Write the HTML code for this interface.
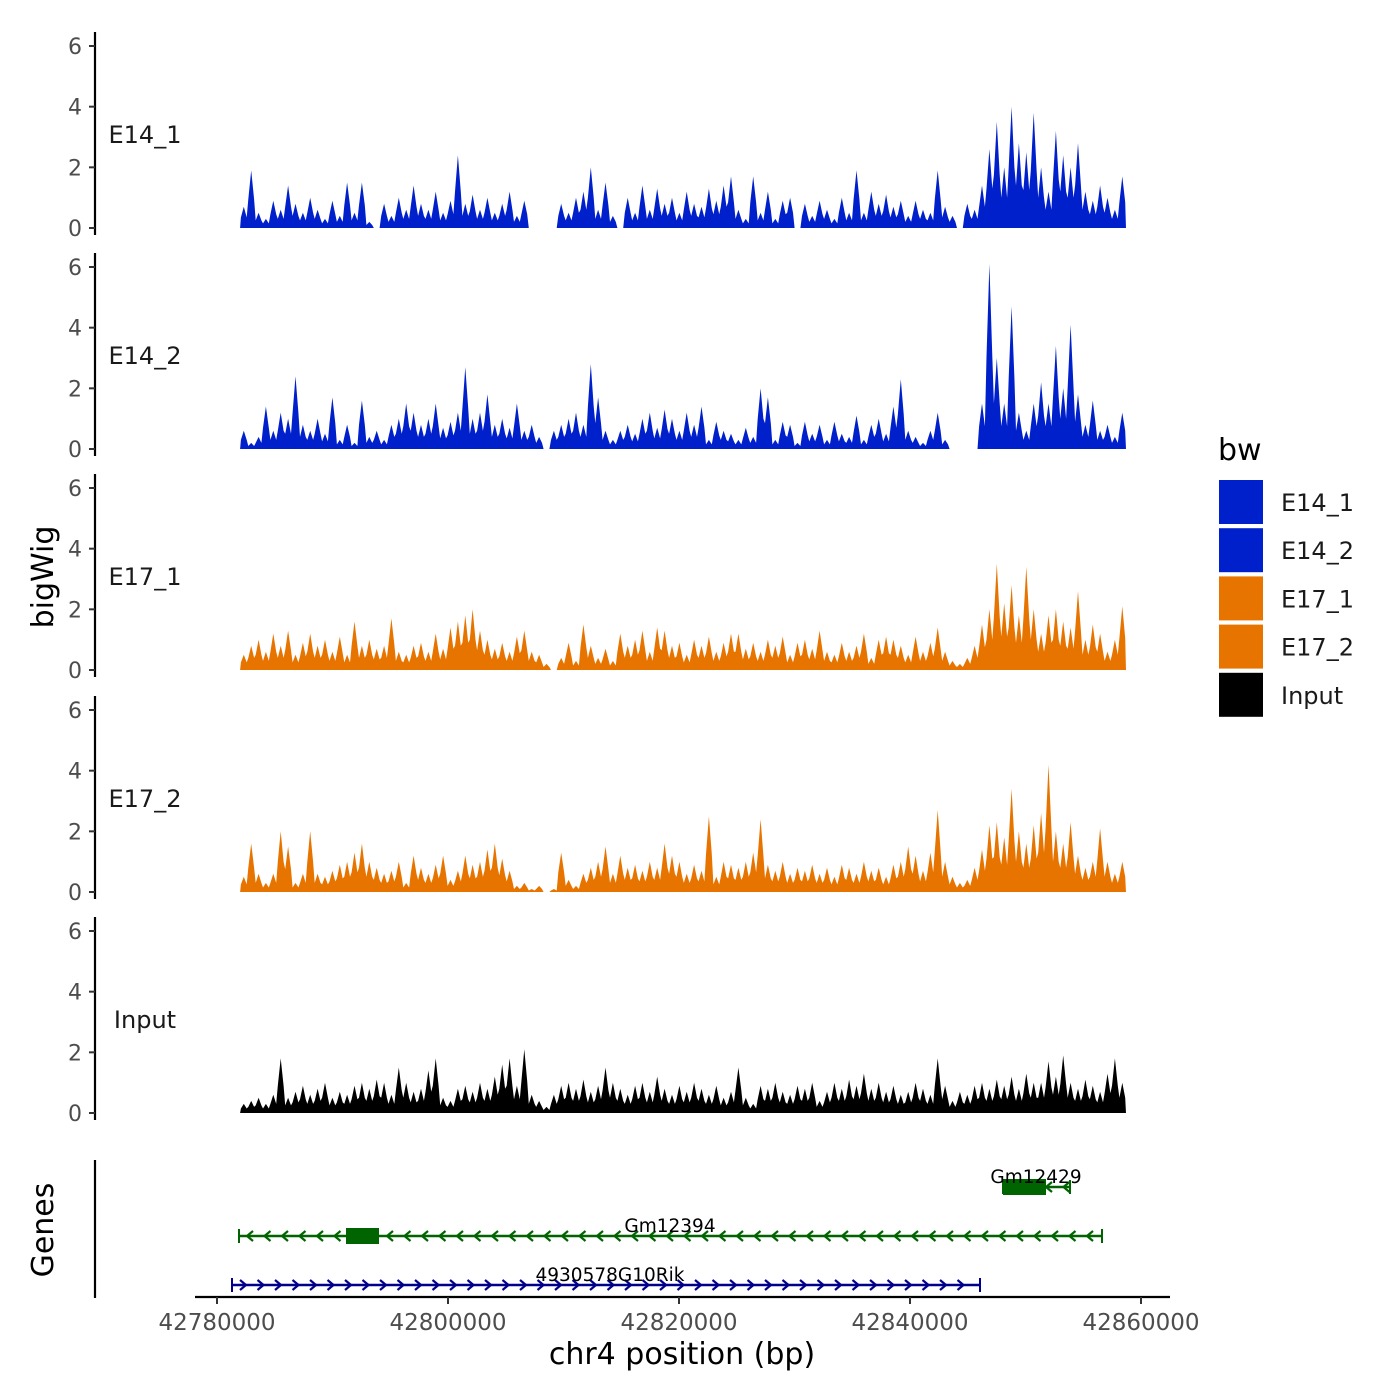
<!DOCTYPE html>
<html><head><meta charset="utf-8">
<style>
html,body{margin:0;padding:0;background:#fff;}
svg{display:block;font-family:"DejaVu Sans","Liberation Sans",sans-serif;}
</style></head>
<body>
<svg id="chart" width="1400" height="1400" viewBox="0 0 1400 1400">
<rect width="1400" height="1400" fill="#fff"/>
</svg>
<script>
const trackNames = ["E14_1","E14_2","E17_1","E17_2","Input"];
const trackColors = ["#0020CC","#0020CC","#E87400","#E87400","#000000"];
const yTicks = [0,2,4,6];
const xTicks = [42780000,42800000,42820000,42840000,42860000];
const xTickLabels = ["42780000","42800000","42820000","42840000","42860000"];
const dataStart = 42782000, dataEnd = 42858700;
const e14_1 = [0.7,1.9,0.5,0.3,0.9,0.6,1.4,0.8,0.5,1.0,0.6,0.3,0.9,0.4,1.5,0.5,1.5,0.2,0.0,0.8,0.4,1.0,0.6,1.4,0.8,0.6,1.2,0.5,0.9,2.4,0.8,1.1,0.6,1.0,0.5,0.8,1.2,0.4,0.9,0.0,0.0,0.0,0.0,0.8,0.5,1.0,1.2,2.0,0.6,1.5,0.4,0.0,1.0,0.5,1.4,0.6,1.3,0.8,1.0,0.5,1.2,0.8,0.7,1.3,0.9,1.4,1.7,0.6,0.3,1.7,0.5,1.2,0.3,0.9,1.0,0.0,0.8,0.4,0.9,0.6,0.3,1.0,0.5,1.9,0.5,1.2,0.8,1.1,0.7,0.9,0.4,0.9,0.6,0.5,1.9,0.7,0.4,0.0,0.8,0.6,1.4,2.6,3.5,2.0,4.0,2.8,2.5,3.8,2.0,1.2,3.2,2.4,2.0,2.8,1.2,0.9,1.4,1.0,0.6,1.7];
const e14_2 = [0.6,0.2,0.4,1.4,0.6,1.2,1.0,2.4,0.8,0.6,1.0,0.5,1.7,0.3,0.8,0.2,1.6,0.4,0.6,0.3,0.8,1.0,1.5,1.2,0.8,1.0,1.5,0.7,0.9,1.2,2.7,1.0,1.2,1.8,0.8,1.0,0.7,1.5,0.6,0.8,0.4,0.0,0.6,0.8,1.0,1.2,0.8,2.8,1.7,0.6,0.3,0.6,0.8,0.5,1.0,1.2,0.7,1.3,1.0,0.6,1.2,0.8,1.4,0.3,0.9,0.6,0.5,0.3,0.7,0.4,2.0,1.7,0.3,0.9,0.8,0.2,0.9,0.5,0.8,0.3,0.9,0.5,0.4,1.1,0.3,0.8,1.0,0.5,1.4,2.3,0.6,0.4,0.2,0.6,1.2,0.3,0.0,0.0,0.0,0.0,1.5,6.1,3.0,1.5,4.7,1.2,0.6,1.5,2.2,1.5,3.4,2.0,4.1,1.8,0.8,1.6,0.6,0.8,0.4,1.2];
const e17_1 = [0.5,0.8,1.0,0.6,1.2,0.8,1.3,0.5,0.9,1.2,0.8,1.0,0.6,1.1,0.5,1.6,0.8,1.0,0.7,0.8,1.7,0.6,0.5,0.8,0.9,0.6,1.2,0.7,1.4,1.6,1.8,2.0,1.3,1.0,0.7,0.9,0.6,1.1,1.3,0.6,0.5,0.2,0.0,0.4,0.9,0.3,1.5,0.8,0.4,0.7,0.3,1.2,0.8,1.0,1.3,0.6,1.4,1.3,0.8,0.9,0.5,1.0,0.8,1.1,0.6,0.9,1.2,1.2,0.7,0.9,0.6,1.0,0.8,1.1,0.5,0.9,1.0,0.7,1.3,0.6,0.5,0.9,0.6,0.8,1.2,0.4,1.0,1.1,1.0,0.8,0.5,1.1,0.6,0.9,1.4,0.6,0.3,0.2,0.4,0.8,1.5,2.0,3.5,2.2,2.8,1.8,3.4,2.0,1.2,1.8,2.0,1.6,1.4,2.6,1.0,1.5,1.2,0.6,1.0,2.1];
const e17_2 = [0.5,1.6,0.6,0.3,0.6,2.0,1.5,0.3,0.6,2.0,0.6,0.5,0.7,0.9,1.0,1.3,1.6,1.0,0.8,0.6,0.7,1.0,0.3,1.2,0.8,0.6,0.9,1.2,0.4,0.7,1.2,0.9,1.0,1.4,1.6,1.1,0.7,0.2,0.3,0.1,0.2,0.0,0.1,1.3,0.4,0.2,0.6,0.8,1.0,1.5,0.6,1.2,0.8,0.9,0.7,1.0,0.8,1.6,1.2,1.0,0.6,0.9,0.7,2.5,0.5,1.0,0.9,0.8,1.0,1.3,2.4,0.9,0.7,1.0,0.6,0.8,0.7,0.9,0.6,0.8,0.5,0.9,0.8,0.6,1.0,0.7,0.8,0.5,0.9,1.0,1.5,1.2,0.7,1.3,2.7,1.0,0.5,0.3,0.4,0.8,1.4,2.2,2.3,1.8,3.4,2.0,1.6,2.2,2.6,4.2,2.0,1.6,2.3,1.2,0.8,1.0,2.1,1.0,0.6,1.0];
const input = [0.3,0.4,0.5,0.3,0.6,1.8,0.5,0.7,0.9,0.6,0.8,1.0,0.5,0.7,0.6,0.9,1.0,0.8,1.1,1.0,0.6,1.5,1.0,0.7,0.8,1.4,1.8,0.5,0.4,0.8,0.9,0.7,1.0,0.8,1.2,1.6,1.8,0.9,2.1,0.6,0.4,0.2,0.6,0.9,1.0,0.8,1.1,0.7,0.9,1.5,1.0,0.8,0.6,0.9,1.0,0.7,1.2,0.8,0.6,0.9,0.7,1.0,0.8,0.6,0.9,0.5,0.7,1.5,0.5,0.3,0.9,0.8,1.0,0.7,0.6,0.9,0.8,1.0,0.4,0.7,1.0,0.8,1.1,0.9,1.3,0.8,1.0,0.7,0.9,0.6,0.7,1.0,0.8,0.6,1.8,0.9,0.4,0.7,0.6,0.9,1.0,0.8,1.1,0.9,1.2,0.8,1.3,1.0,1.0,1.7,1.2,1.9,1.0,0.8,1.1,0.9,0.7,1.3,1.8,1.0];
const geneNames = ["Gm12429","Gm12394","4930578G10Rik"];
const geneStarts = [42848052,42781905,42781299];
const geneEnds = [42853853,42856623,42846061];
const geneBoxStarts = [42848052,42791169,null];
const geneBoxEnds = [42851775,42794026,null];
const geneStrands = ["-","-","+"];
const geneColors = ["#006400","#006400","#00008B"];
const legendLabels = ["E14_1","E14_2","E17_1","E17_2","Input"];

const svg = document.getElementById('chart');
const NS = "http://www.w3.org/2000/svg";
function mk(tag, attrs, parent){const e=document.createElementNS(NS,tag);for(const k in attrs)e.setAttribute(k,attrs[k]);(parent||svg).appendChild(e);return e;}
const xScale = bp => 217 + (bp - 42780000) * 231 / 20000;
const zeroY = [228,449,670,892,1113];
const unitPx = 182/6;
const series = [e14_1,e14_2,e17_1,e17_2,input];

series.forEach((vals,t)=>{
  const g = mk('g',{});
  
  
  const y0 = zeroY[t];
  const yS = v => y0 - v*unitPx;
  const ax = mk('line',{x1:95,x2:95,y1:y0-196,y2:y0+7,stroke:'#000','stroke-width':2.2},g);
  
  
  yTicks.forEach(v=>{
    mk('line',{x1:89,x2:95,y1:yS(v),y2:yS(v),stroke:'#333','stroke-width':2},g);
    const tx = mk('text',{x:82,y:yS(v)+8,'text-anchor':'end','font-size':22,fill:'#4d4d4d'},g);
    tx.textContent = v;
    
    
  });
  const lbl = mk('text',{x:145,y:y0-85,'text-anchor':'middle','font-size':24,fill:'#1a1a1a'},g);
  lbl.textContent = trackNames[t];
  
  
  const n = vals.length, bw = (dataEnd-dataStart)/n;
  let d = 'M'+xScale(dataStart)+','+y0;
  vals.forEach((v,i)=>{
    const xa = xScale(dataStart+bw*i), xc = xScale(dataStart+bw*(i+0.5)), xb = xScale(dataStart+bw*(i+1));
    d += ' L'+(xa+0.8).toFixed(1)+','+yS(v*0.5).toFixed(1)+' L'+xc.toFixed(1)+','+yS(v).toFixed(1)+' L'+(xb-0.8).toFixed(1)+','+yS(v*0.5).toFixed(1);
  });
  d += ' L'+xScale(dataEnd)+','+y0+' Z';
  const a = mk('path',{d:d,fill:trackColors[t]},g);
  
  
});

const yt = mk('text',{x:0,y:0,'font-size':30,'text-anchor':'middle',transform:'translate(53,577) rotate(-90)',fill:'#000'});
yt.textContent='bigWig';


const gt = mk('text',{x:0,y:0,'font-size':30,'text-anchor':'middle',transform:'translate(53,1230) rotate(-90)',fill:'#000'});
gt.textContent='Genes';



const gax = mk('line',{x1:95,x2:95,y1:1160,y2:1298,stroke:'#000','stroke-width':2.2});


const xax = mk('line',{x1:195,x2:1170,y1:1297,y2:1297,stroke:'#000','stroke-width':2.2});


xTicks.forEach((b,i)=>{
  mk('line',{x1:xScale(b),x2:xScale(b),y1:1297,y2:1304,stroke:'#333','stroke-width':2});
  const tx = mk('text',{x:xScale(b),y:1330,'text-anchor':'middle','font-size':23,fill:'#4d4d4d'});
  tx.textContent = xTickLabels[i];
  
  
});
const xt = mk('text',{x:682,y:1364,'text-anchor':'middle','font-size':30,fill:'#000'});
xt.textContent='chr4 position (bp)';



const geneY = [1187,1236,1285];
geneNames.forEach((nm,i)=>{
  const g = mk('g',{});
  
  
  const c = geneColors[i], y = geneY[i];
  const x1 = xScale(geneStarts[i]), x2 = xScale(geneEnds[i]);
  mk('line',{x1:x1,x2:x2,y1:y,y2:y,stroke:c,'stroke-width':2.5},g);
  mk('line',{x1:x1,x2:x1,y1:y-7,y2:y+7,stroke:c,'stroke-width':2},g);
  mk('line',{x1:x2,x2:x2,y1:y-7,y2:y+7,stroke:c,'stroke-width':2},g);
  for(let x=x1+10;x<x2-4;x+=17.5){
    const p = geneStrands[i]==='-' ? `M${x+4},${y-5} L${x-2},${y} L${x+4},${y+5}` : `M${x-2},${y-5} L${x+4},${y} L${x-2},${y+5}`;
    mk('path',{d:p,stroke:c,'stroke-width':2.2,fill:'none'},g);
  }
  if(geneBoxStarts[i]!==null){
    const bx = xScale(geneBoxStarts[i]), bx2 = xScale(geneBoxEnds[i]);
    mk('rect',{x:bx,y:y-8,width:bx2-bx,height:16,fill:c},g);
  }
  const tx = mk('text',{x:(i===0?1036:(i===1?670:610)),y:y-4,'text-anchor':'middle','font-size':18.5,fill:'#000'},g);
  tx.textContent = nm;
  
  
});

const lg = mk('g',{});


const lt = mk('text',{x:1218,y:460,'font-size':30,fill:'#000'},lg);
lt.textContent='bw';


const legendColors = ["#0020CC","#0020CC","#E87400","#E87400","#000000"];
legendLabels.forEach((l,i)=>{
  const y = 480 + i*48.2;
  const r = mk('rect',{x:1219,y:y,width:44,height:44,fill:legendColors[i]},lg);
  
  
  const tx = mk('text',{x:1281,y:y+31,'font-size':24,fill:'#1a1a1a'},lg);
  tx.textContent = l;
  
  
});
</script>
</body></html>
